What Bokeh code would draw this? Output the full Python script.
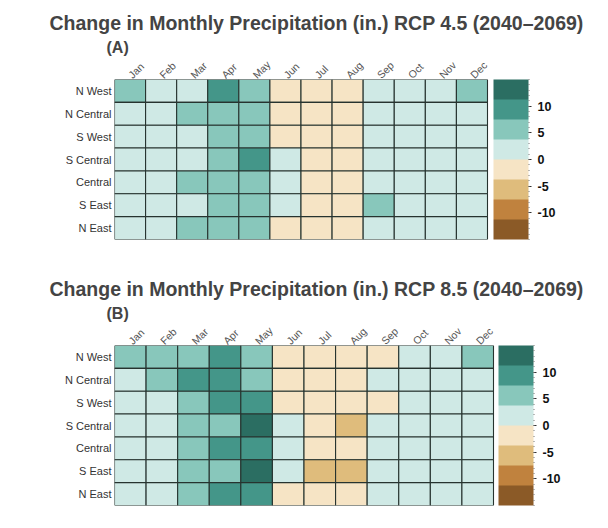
from bokeh.plotting import figure
from bokeh.models import (ColumnDataSource, LinearColorMapper, ColorBar, FixedTicker, Title,
                          Range1d, CustomJSTickFormatter, PrintfTickFormatter)
from bokeh.transform import transform
from bokeh.layouts import column
from bokeh.embed import file_html
from bokeh.resources import INLINE
import math

months = ["Jan", "Feb", "Mar", "Apr", "May", "Jun", "Jul", "Aug", "Sep", "Oct", "Nov", "Dec"]
regions = ["N West", "N Central", "S West", "S Central", "Central", "S East", "N East"]

# change in monthly precipitation (in.), rows follow `regions`, columns follow `months`
rcp45 = [
    [5.5, 2, 2, 9, 5, -2, -2.5, -2, 2, 1.5, 1.5, 5],
    [2, 2, 5, 6, 5, -1.5, -2, -2, 1.5, 1.5, 1.5, 2],
    [2, 2, 3, 6, 6, -1.5, -2, -2, 1.5, 1.5, 1.5, 1.5],
    [2, 2, 3, 6, 9, 1, -2, -2, 1.5, 1.5, 1.5, 1.5],
    [2, 2, 5, 6, 5, 0.5, -2, -2, 1.5, 1.5, 1.5, 1.5],
    [2, 2, 3, 6, 6, 1, -2, -2, 5, 1.5, 1.5, 1.5],
    [2, 2, 5.5, 6, 6, -1, -2, -2, 1.5, 1.5, 1.5, 1.5],
]
rcp85 = [
    [5, 5.5, 5, 9, 5.5, -2, -2, -2, -2, 1.5, 1.5, 5],
    [2, 5, 9, 9, 5, -2, -2, -2, 1.5, 1.5, 1.5, 1.5],
    [2, 2, 5, 9, 9, -2, -2, -2, -1.5, 1.5, 1.5, 1.5],
    [2, 2, 5, 5, 13, 1, -2, -5, 1.5, 1.5, 1.5, 1.5],
    [2, 2, 5, 9, 9, 1, -2, -2, 1.5, 1.5, 1.5, 1.5],
    [2, 2, 5, 4.5, 13, 1, -5, -5, 1.5, 1.5, 1.5, 1.5],
    [2, 2, 5, 9, 9, -2, -2, -2, 1.5, 1.5, 1.5, 1.5],
]
scale_ticks = [-10, -5, 0, 5, 10]
palette = ["#8b5a27", "#c0823e", "#dfbc7c", "#f6e4c5", "#cfe9e5", "#88c7bb", "#449689", "#2b6e62"]

FONT = "Liberation Sans"


def make_title(text, size, standoff, offset):
    kw = dict(text=text, align="left", offset=offset, text_font=FONT,
              text_font_size=size, text_font_style="bold")
    try:
        return Title(standoff=standoff, **kw)
    except Exception:
        return Title(standoff=0, **kw)


def make_panel(values, title, tag, frame_left, grid_width, gap, bottom, title_off, tag_off):
    xs, ys, vs = [], [], []
    for r, row in zip(regions, values):
        for i, v in enumerate(row):
            xs.append(i + 0.5)
            ys.append(r)
            vs.append(v)
    src = ColumnDataSource(dict(month=xs, region=ys, val=vs))
    mapper = LinearColorMapper(palette=palette, low=-15, high=15)

    fw = grid_width + gap
    p = figure(x_range=Range1d(0, len(months) * fw / grid_width), y_range=list(reversed(regions)),
               frame_width=fw, frame_height=160,
               x_axis_location="above", toolbar_location=None, output_backend="svg",
               min_border_left=frame_left, min_border_top=0, min_border_bottom=bottom,
               min_border_right=592 - frame_left - fw)
    p.rect(x="month", y="region", width=1, height=1, source=src,
           fill_color=transform("val", mapper), line_color="#26332f", line_width=1.1)

    p.outline_line_color = None
    p.grid.visible = False
    for ax in (p.xaxis[0], p.yaxis[0]):
        ax.axis_line_color = None
        ax.major_tick_line_color = None
        ax.minor_tick_line_color = None
        ax.major_tick_out = 0
        ax.major_tick_in = 0
        ax.minor_tick_out = 0
        ax.minor_tick_in = 0
        ax.major_label_text_font = FONT
    p.xaxis.ticker = FixedTicker(ticks=[i + 0.5 for i in range(len(months))])
    p.xaxis.formatter = CustomJSTickFormatter(args=dict(names=months),
                                              code="return names[Math.floor(tick)] || ''")
    p.xaxis.major_label_orientation = math.pi / 4
    p.xaxis.major_label_text_font_size = "10.5px"
    p.xaxis.major_label_text_color = "#555555"
    p.xaxis.major_label_standoff = 3
    p.yaxis.major_label_text_font_size = "11px"
    p.yaxis.major_label_text_color = "#333333"
    p.yaxis.major_label_standoff = 3

    cb = ColorBar(color_mapper=mapper, ticker=FixedTicker(ticks=scale_ticks, minor_ticks=list(range(-15, 16))),
                  formatter=PrintfTickFormatter(format="%d"),
                  width=35, height=160, padding=0,
                  major_label_text_font=FONT, major_label_text_font_size="12.5px",
                  major_label_text_font_style="bold", major_label_text_color="#111111",
                  major_tick_line_color="#333333", major_tick_in=0, major_tick_out=3,
                  minor_tick_line_color="#777777", minor_tick_in=0, minor_tick_out=1,
                  label_standoff=6, bar_line_color=None, border_line_color=None,
                  background_fill_alpha=0)
    p.add_layout(cb, "right")

    p.add_layout(make_title(tag, "16px", -11, tag_off), "above")
    p.add_layout(make_title(title, "19.5px", 18, title_off), "above")
    return p


pA = make_panel(rcp45, "Change in Monthly Precipitation (in.) RCP 4.5 (2040\u20132069)", "(A)",
                110, 373, 6, 27, -65, -8)
pB = make_panel(rcp85, "Change in Monthly Precipitation (in.) RCP 8.5 (2040\u20132069)", "(B)",
                114, 379, 5, 12, -65, -8)

layout = column(pA, pB, spacing=0)
open("out.html", "w").write(file_html(layout, INLINE))
